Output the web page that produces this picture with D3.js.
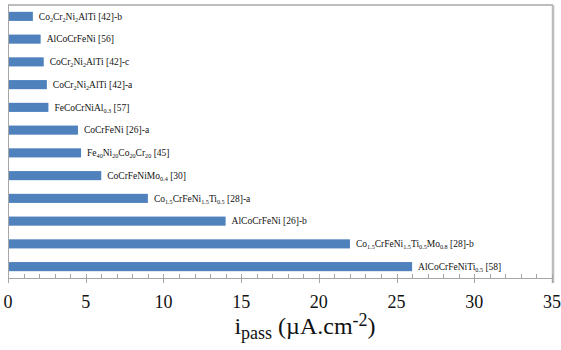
<!DOCTYPE html>
<html><head><meta charset="utf-8">
<script src="https://cdn.jsdelivr.net/npm/d3@7"></script>
<style>
body{margin:0;background:#fff}
svg{display:block}
svg text, svg tspan{font-family:"Liberation Serif","Times New Roman",Tinos,serif !important}
</style>
</head><body><svg id="c" width="561" height="350"></svg>
<script>
// Labels use _{...} for subscripts, ^{...} for superscripts
const categories = [
  "Co_{2}Cr_{2}Ni_{2}AlTi [42]-b",
  "AlCoCrFeNi [56]",
  "CoCr_{2}Ni_{2}AlTi [42]-c",
  "CoCr_{2}Ni_{2}AlTi [42]-a",
  "FeCoCrNiAl_{0.3} [57]",
  "CoCrFeNi [26]-a",
  "Fe_{40}Ni_{20}Co_{20}Cr_{20} [45]",
  "CoCrFeNiMo_{0.4} [30]",
  "Co_{1.5}CrFeNi_{1.5}Ti_{0.5} [28]-a",
  "AlCoCrFeNi [26]-b",
  "Co_{1.5}CrFeNi_{1.5}Ti_{0.5}Mo_{0.8}  [28]-b",
  "AlCoCrFeNiTi_{0.5} [58]"
];
const values = [1.6, 2.1, 2.3, 2.5, 2.6, 4.5, 4.7, 6.0, 9.0, 14.0, 22.0, 26.0];
const xTicks = [0, 5, 10, 15, 20, 25, 30, 35];
const xMinorTicks = d3.range(0, 36, 1);
const axisTitle = "i_{pass} (µA.cm^{-2})";

const SERIF = '"Liberation Serif", "Times New Roman", Tinos, serif';
const svg = d3.select("#c");
const L = 8, R = 552, T = 5, B = 278;
const x = d3.scaleLinear().domain([0, 35]).range([L, R]);
const y = d3.scaleBand().domain(categories).range([T, B]).paddingInner(0.6).paddingOuter(0.3);

function rich(sel, str, size, ratio) {
  const re = /([_^])\{([^}]*)\}|([^_^]+)/g; let m;
  while ((m = re.exec(str))) {
    if (m[3]) sel.append("tspan").style("font-family", SERIF).text(m[3]);
    else {
      const sub = m[1] === "_";
      sel.append("tspan").style("font-family", SERIF).style("font-size", (size * ratio) + "px")
        .attr("baseline-shift", sub ? "-25%" : "45%")
        .text(m[2]);
    }
  }
}

// border top and right
svg.append("line").attr("x1", L).attr("x2", R + 1).attr("y1", T).attr("y2", T)
  .attr("stroke", "#bdbdbd").attr("stroke-width", 2);
svg.append("line").attr("x1", R + 1).attr("x2", R + 1).attr("y1", T).attr("y2", B + 5)
  .attr("stroke", "#bdbdbd").attr("stroke-width", 2.5);

// bars
svg.append("g").selectAll("rect").data(values).join("rect")
  .attr("x", x(0)).attr("y", (d, i) => y(categories[i]))
  .attr("width", d => x(d) - x(0)).attr("height", y.bandwidth())
  .attr("fill", "#4f81bd");

// labels
svg.append("g").selectAll("text").data(values).join("text")
  .style("font-family", SERIF).style("font-size", "9.5px")
  .attr("x", d => x(d) + 6).attr("y", (d, i) => y(categories[i]) + y.bandwidth() / 2)
  .attr("dy", "0.35em").attr("fill", "#111")
  .each(function (d, i) { rich(d3.select(this), categories[i], 9.5, 0.65); });

// x axis
const ax = svg.append("g");
ax.append("line").attr("x1", L).attr("x2", R).attr("y1", B + 0.5).attr("y2", B + 0.5).attr("stroke", "#a6a6a6");
ax.selectAll("line.minor").data(xMinorTicks.filter(v => v % 5 !== 0)).join("line")
  .attr("class", "minor").attr("x1", d => Math.round(x(d)) + 0.5).attr("x2", d => Math.round(x(d)) + 0.5)
  .attr("y1", B - 4).attr("y2", B).attr("stroke", "#a6a6a6");
ax.selectAll("line.major").data(xTicks).join("line")
  .attr("class", "major").attr("x1", d => Math.round(x(d)) + 0.5).attr("x2", d => Math.round(x(d)) + 0.5)
  .attr("y1", B - 4).attr("y2", B + 5).attr("stroke", "#a6a6a6");
ax.selectAll("text").data(xTicks).join("text")
  .style("font-family", SERIF).style("font-size", "18px")
  .attr("x", d => x(d)).attr("y", 308).attr("text-anchor", "middle")
  .attr("fill", "#111").text(d => d);
// y axis line
svg.append("line").attr("x1", L + 0.5).attr("x2", L + 0.5).attr("y1", T).attr("y2", B + 5).attr("stroke", "#a6a6a6");

// axis title
const t = svg.append("text").style("font-family", SERIF).style("font-size", "24px")
  .attr("x", 305).attr("y", 334).attr("text-anchor", "middle")
  .attr("fill", "#111");
rich(t, axisTitle, 24, 0.75);
</script></body></html>
